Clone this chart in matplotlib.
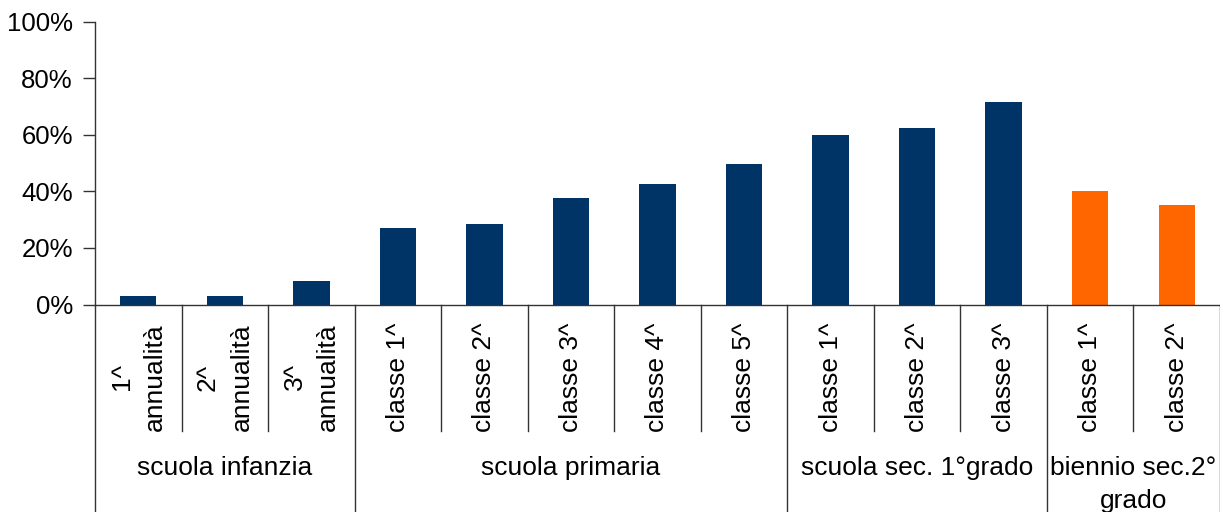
import matplotlib.pyplot as plt
from matplotlib.ticker import PercentFormatter

plt.rcParams['font.family'] = ['Liberation Sans', 'DejaVu Sans']

# Data
categories = ["1^\nannualità", "2^\nannualità", "3^\nannualità",
              "classe 1^", "classe 2^", "classe 3^", "classe 4^", "classe 5^",
              "classe 1^", "classe 2^", "classe 3^",
              "classe 1^", "classe 2^"]
category_group = [0, 0, 0, 1, 1, 1, 1, 1, 2, 2, 2, 3, 3]
groups = ["scuola infanzia", "scuola primaria", "scuola sec. 1°grado",
          "biennio sec.2°\ngrado"]
values = [3.0, 3.0, 8.3, 27.0, 28.4, 37.6, 42.6, 49.6, 59.9, 62.4, 71.6, 40.1, 35.2]
group_colors = ["#003366", "#003366", "#003366", "#FF6600"]

W, H = 1220, 512
fig = plt.figure(figsize=(W / 100, H / 100), dpi=100)
ax_left, ax_right = 95, 1220
ax_top, ax_bottom = 21.5, 304.5
ax = fig.add_axes([ax_left / W, 1 - ax_bottom / H,
                   (ax_right - ax_left) / W, (ax_bottom - ax_top) / H])

x = list(range(len(categories)))
colors = [group_colors[g] for g in category_group]
ax.bar(x, values, width=0.42, color=colors)

ax.set_xlim(-0.5, len(categories) - 0.5)
ax.set_ylim(0, 100)
ax.set_yticks([0, 20, 40, 60, 80, 100])
ax.yaxis.set_major_formatter(PercentFormatter(decimals=0))
ax.tick_params(axis='y', labelsize=18.5, length=9, width=1, pad=7, color='#333333')
ax.set_xticks([])
for s in ['top', 'right']:
    ax.spines[s].set_visible(False)
for s in ['left', 'bottom']:
    ax.spines[s].set_color('#333333')
    ax.spines[s].set_linewidth(1)

# helper: pixel row to axes fraction
def yfrac(py):
    return (ax_bottom - py) / (ax_bottom - ax_top)

tr = ax.get_xaxis_transform()

# separators between categories and groups
for i in range(len(categories) + 1):
    xb = i - 0.5
    if i == 0 or i == len(categories) or category_group[i] != category_group[i - 1]:
        y_end = yfrac(H + 2)
    else:
        y_end = yfrac(431)
    ax.plot([xb, xb], [0, y_end], transform=tr, color='#333333', lw=1,
            clip_on=False)

# category labels
for i, lab in enumerate(categories):
    ax.text(i, yfrac(377), lab, transform=tr, rotation=90, ha='center',
            va='center', multialignment='center', fontsize=19, linespacing=1.5)

# group labels
for g, lab in enumerate(groups):
    idx = [i for i, cg in enumerate(category_group) if cg == g]
    xc = (idx[0] + idx[-1]) / 2
    ax.text(xc, yfrac(456), lab, transform=tr, ha='center', va='top',
            fontsize=19, linespacing=1.45)

fig.savefig("out.png", dpi=100)
